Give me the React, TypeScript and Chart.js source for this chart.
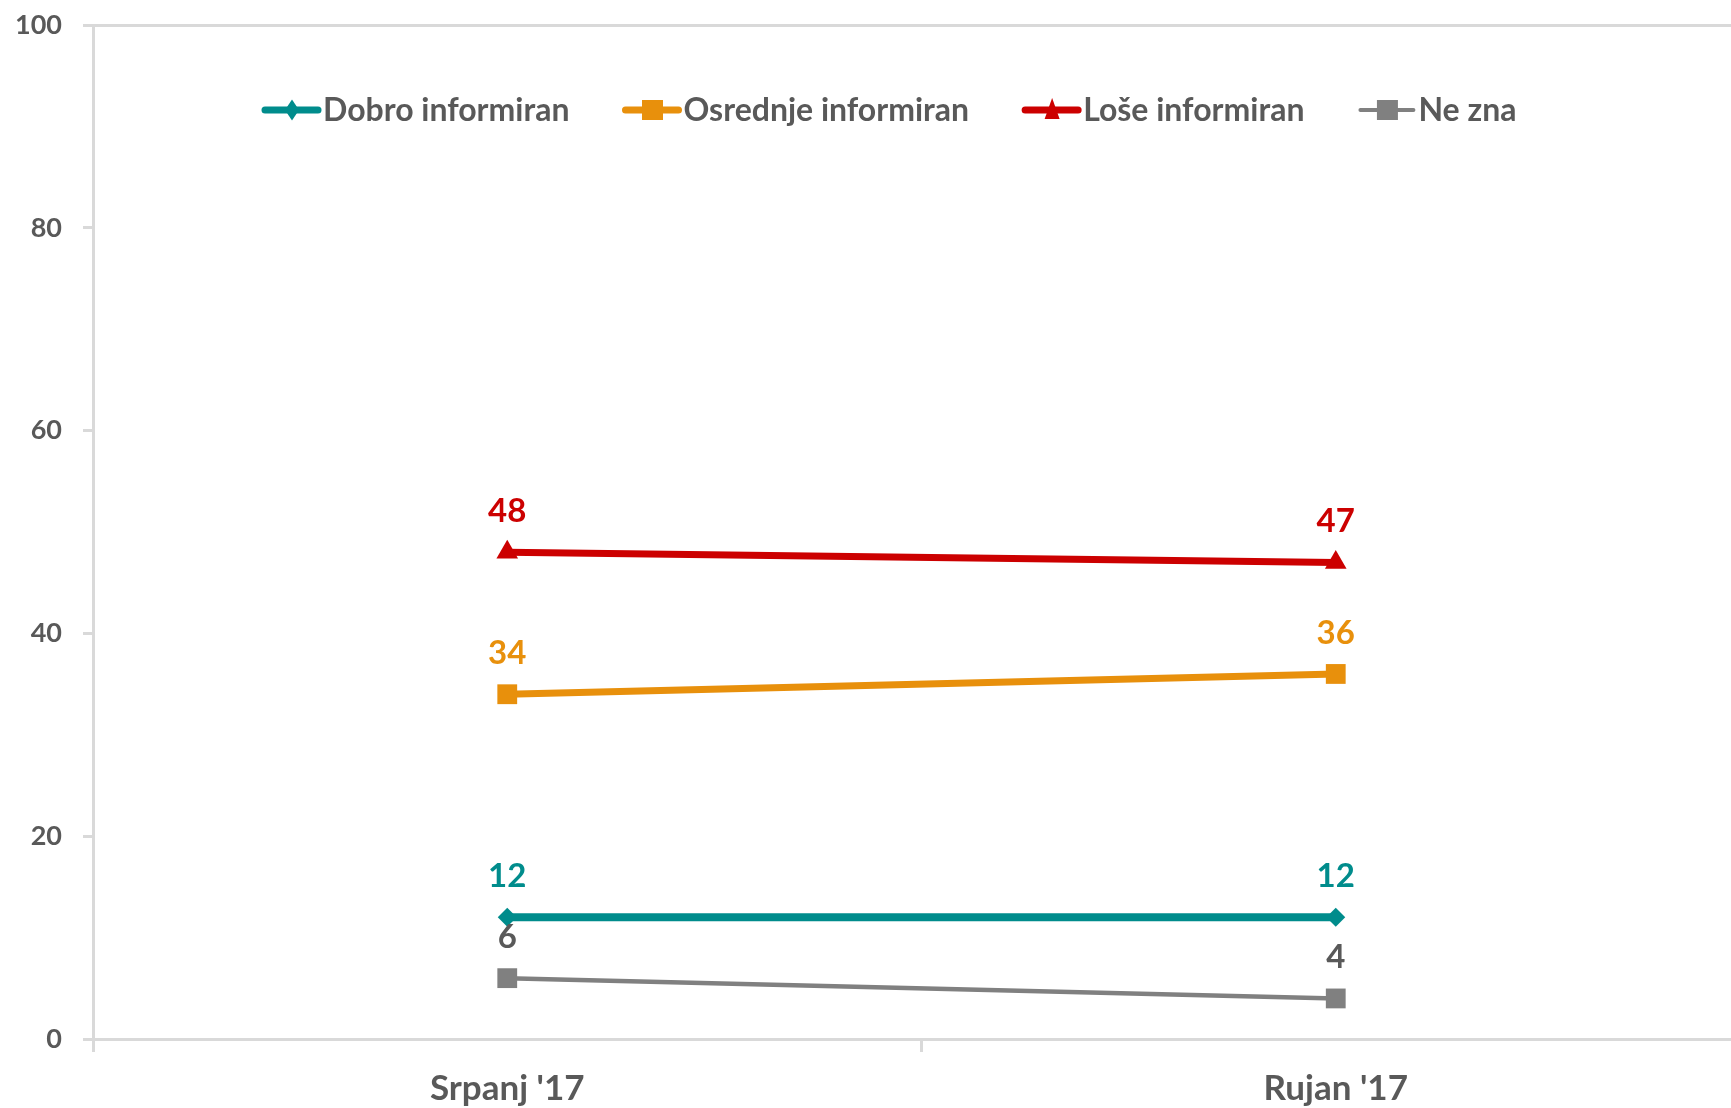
import { useEffect, useRef } from "react";
import { Chart, registerables } from "chart.js";

Chart.register(...registerables);

const categories = ["Srpanj '17", "Rujan '17"];
const seriesNames = ["Dobro informiran", "Osrednje informiran", "Loše informiran", "Ne zna"];
const dobroValues = [12, 12];
const osrednjeValues = [34, 36];
const loseValues = [48, 47];
const neZnaValues = [6, 4];
const yTickValues = [0, 20, 40, 60, 80, 100];

const TEXT = "#595959";
const AXIS = "#D9D9D9";
const FONT = "Lato";

const seriesStyles = [
  { color: "#008C8C", label: "#008C8C", width: 8, legendWidth: 7, point: "rectRot", radius: 9.5, marker: "diamond" },
  { color: "#E8900C", label: "#E8900C", width: 7, legendWidth: 7, point: "rect", radius: 14, marker: "square" },
  { color: "#CC0000", label: "#CC0000", width: 7, legendWidth: 7, point: "triangle", radius: 12.5, marker: "triangle" },
  { color: "#808080", label: TEXT, width: 4.5, legendWidth: 4, point: "rect", radius: 14, marker: "square" },
];

const seriesValues = [dobroValues, osrednjeValues, loseValues, neZnaValues];

const legendPlugin = {
  id: "customLegend",
  afterDraw(chart: any) {
    const ctx = chart.ctx;
    const area = chart.chartArea;
    ctx.save();
    ctx.font = `bold 32px ${FONT}`;
    ctx.textBaseline = "middle";
    ctx.textAlign = "left";
    let x = area.left + 169;
    const y = area.top + 85;
    chart.data.datasets.forEach((ds: any, i: number) => {
      const st = seriesStyles[i];
      ctx.strokeStyle = st.color;
      ctx.fillStyle = st.color;
      ctx.lineWidth = st.legendWidth;
      ctx.lineCap = "round";
      ctx.beginPath();
      ctx.moveTo(x + 3, y);
      ctx.lineTo(x + 56, y);
      ctx.stroke();
      const cx = x + 30;
      ctx.beginPath();
      if (st.marker === "diamond") {
        ctx.moveTo(cx, y - 10.5);
        ctx.lineTo(cx + 7, y);
        ctx.lineTo(cx, y + 10.5);
        ctx.lineTo(cx - 7, y);
      } else if (st.marker === "square") {
        ctx.rect(cx - 10.5, y - 10, 21, 20);
      } else {
        ctx.moveTo(cx, y - 12);
        ctx.lineTo(cx + 7.5, y + 9);
        ctx.lineTo(cx - 7.5, y + 9);
      }
      ctx.closePath();
      ctx.fill();
      ctx.fillStyle = TEXT;
      const tx = x + 61;
      ctx.fillText(ds.label, tx, y + 1);
      x = tx + ctx.measureText(ds.label).width + 53;
    });
    ctx.restore();
  },
};

const valueLabelPlugin = {
  id: "valueLabels",
  afterDatasetsDraw(chart: any) {
    const ctx = chart.ctx;
    ctx.save();
    ctx.font = `bold 33px ${FONT}`;
    ctx.textAlign = "center";
    ctx.textBaseline = "middle";
    chart.data.datasets.forEach((ds: any, i: number) => {
      const meta = chart.getDatasetMeta(i);
      ctx.fillStyle = seriesStyles[i].label;
      meta.data.forEach((pt: any, j: number) => {
        ctx.fillText(String(ds.data[j]), pt.x, pt.y - 41);
      });
    });
    ctx.restore();
  },
};

export default function App() {
  const canvasRef = useRef<HTMLCanvasElement | null>(null);

  useEffect(() => {
    if (!canvasRef.current) return;
    const chart = new Chart(canvasRef.current, {
      type: "line",
      data: {
        labels: categories,
        datasets: seriesNames.map((name, i) => ({
          label: name,
          data: seriesValues[i],
          borderColor: seriesStyles[i].color,
          backgroundColor: seriesStyles[i].color,
          borderWidth: seriesStyles[i].width,
          pointStyle: seriesStyles[i].point as any,
          pointRadius: seriesStyles[i].radius,
          pointHoverRadius: seriesStyles[i].radius,
          pointBackgroundColor: seriesStyles[i].color,
          pointBorderWidth: 0,
          tension: 0,
          fill: false,
        })),
      },
      options: {
        responsive: false,
        animation: false,
        devicePixelRatio: 1,
        layout: { padding: { top: 25, right: 1, left: 0, bottom: 0 } },
        plugins: {
          legend: { display: false },
          tooltip: { enabled: false },
        },
        scales: {
          x: {
            type: "category",
            offset: true,
            grid: {
              offset: true,
              drawOnChartArea: false,
              drawTicks: true,
              tickLength: 13,
              tickColor: AXIS,
              tickWidth: 3,
            },
            border: { display: true, color: AXIS, width: 3 },
            ticks: {
              color: TEXT,
              font: { family: FONT, size: 35, weight: "bold" },
              padding: 16,
              maxRotation: 0,
              autoSkip: false,
            },
            afterFit: (scale: any) => {
              scale.height = 69;
            },
          },
          y: {
            min: 0,
            max: 100,
            grid: {
              drawOnChartArea: true,
              color: (c: any) => (c.tick && c.tick.value === 100 ? AXIS : "rgba(0,0,0,0)"),
              lineWidth: 3,
              drawTicks: true,
              tickLength: 10,
              tickColor: AXIS,
              tickWidth: 3,
            },
            border: { display: true, color: AXIS, width: 3 },
            ticks: {
              color: TEXT,
              font: { family: FONT, size: 27, weight: "bold" },
              padding: 21,
            },
            afterBuildTicks: (scale: any) => {
              scale.ticks = yTickValues.map((v) => ({ value: v }));
            },
            afterFit: (scale: any) => {
              scale.width = 93;
              scale.paddingTop = 0;
              scale.paddingBottom = 0;
            },
          },
        },
      },
      plugins: [legendPlugin, valueLabelPlugin],
    });
    return () => chart.destroy();
  }, []);

  return (
    <div
      style={{
        position: "fixed",
        left: 0,
        top: 0,
        width: 1731,
        height: 1108,
        overflow: "hidden",
        background: "#ffffff",
      }}
    >
      <canvas
        ref={canvasRef}
        width={1764}
        height={1108}
        style={{ width: 1764, height: 1108, display: "block" }}
      />
    </div>
  );
}
